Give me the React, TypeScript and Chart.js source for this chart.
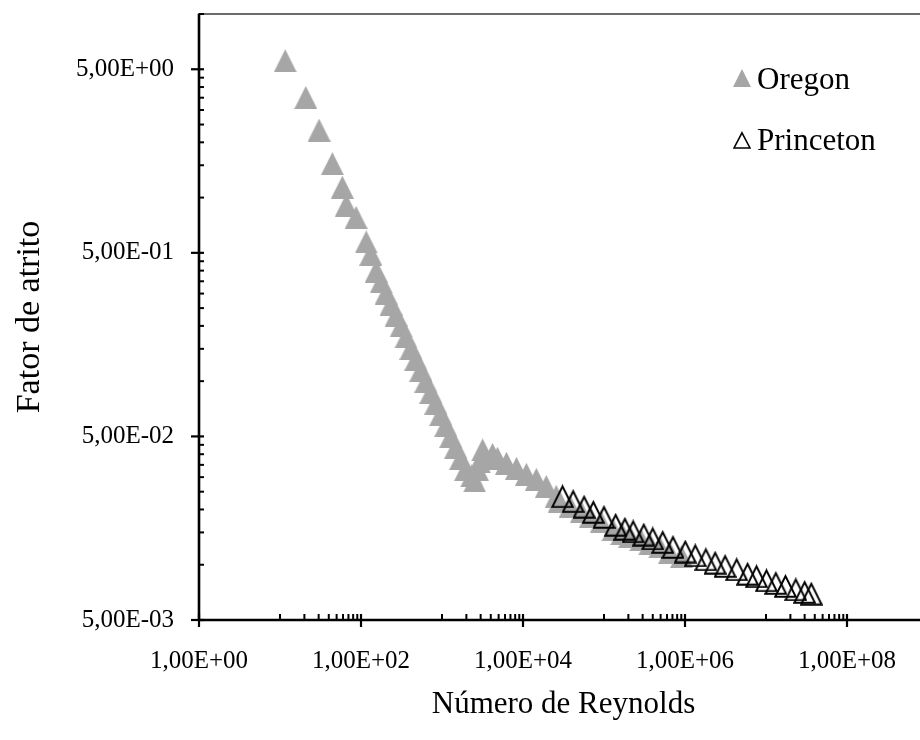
import React, { useEffect, useRef } from 'react';
import { Chart, registerables } from 'chart.js';

Chart.register(...registerables);

// ---- data ----
const oregonRe = [
  11.6, 20.8, 30.4, 44.3, 58.8, 65.8, 87, 116, 132, 154,
  177, 204, 235, 271, 312, 359, 414, 476, 549, 632,
  728, 839, 966, 1113, 1282, 1478, 1702, 1960, 2323, 2530,
  2754, 2911, 3172, 3357, 4207, 4849, 6252, 8299, 11010, 14610,
  19380, 25700, 28000, 38200, 52200, 67300, 91900, 129000, 166400, 208600,
  285000, 367500, 487500, 647000, 908000,
];
const oregonF = [
  5.56, 3.51, 2.33, 1.53, 1.14, 0.91, 0.78, 0.573, 0.492, 0.398,
  0.347, 0.302, 0.263, 0.229, 0.2, 0.174, 0.151, 0.132, 0.115, 0.1,
  0.087, 0.076, 0.066, 0.0575, 0.05, 0.0437, 0.038, 0.0331, 0.0305, 0.0286,
  0.0329, 0.0363, 0.0422, 0.038, 0.0399, 0.038, 0.0357, 0.0335, 0.0311, 0.0292,
  0.0267, 0.0236, 0.0222, 0.0208, 0.0194, 0.0182, 0.0171, 0.0155, 0.0148, 0.0143,
  0.0137, 0.013, 0.0125, 0.0117, 0.0111,
];
const princetonRe = [
  30760, 41600, 56800, 73900, 100000, 139300, 181300, 229100, 309900, 399700,
  530700, 710100, 1008000, 1339000, 1807000, 2357000, 3126000, 4344000, 5930000, 7640000,
  10140000, 13240000, 17380000, 23300000, 30000000, 36200000,
];
const princetonF = [
  0.0236, 0.0222, 0.0207, 0.0194, 0.0182, 0.0165, 0.0157, 0.0152, 0.0146, 0.0139,
  0.0133, 0.0125, 0.0118, 0.01125, 0.0107, 0.01026, 0.00984, 0.00944, 0.00893, 0.00865,
  0.00822, 0.00795, 0.00766, 0.00734, 0.0071, 0.00696,
];
const seriesNames = ['Oregon', 'Princeton'];
const xTickValues = [1, 1e2, 1e4, 1e6, 1e8];
const xTickLabels = ['1,00E+00', '1,00E+02', '1,00E+04', '1,00E+06', '1,00E+08'];
const yTickValues = [0.005, 0.05, 0.5, 5];
const yTickLabels = ['5,00E-03', '5,00E-02', '5,00E-01', '5,00E+00'];
const xMin = 1;
const xMax = 1e9;
const yMin = 0.005;
const yMax = 10;
const xTitle = 'Número de Reynolds';
const yTitle = 'Fator de atrito';

const FONT = "'Times New Roman', 'Liberation Serif', serif";
const GREY = '#a6a6a6';

function makeTriangle(w: number, h: number, filled: boolean, lw: number): HTMLCanvasElement {
  const c = document.createElement('canvas');
  c.width = w;
  c.height = h;
  const g = c.getContext('2d')!;
  g.beginPath();
  if (filled) {
    g.moveTo(w / 2, 0);
    g.lineTo(w, h);
    g.lineTo(0, h);
    g.closePath();
    g.fillStyle = GREY;
    g.fill();
  } else {
    const p = lw / 2 + 0.2;
    g.moveTo(w / 2, p * 1.8);
    g.lineTo(w - p, h - p);
    g.lineTo(p, h - p);
    g.closePath();
    g.lineWidth = lw;
    g.lineJoin = 'miter';
    g.strokeStyle = '#000';
    g.stroke();
  }
  return c;
}

export default function App() {
  const ref = useRef<HTMLCanvasElement | null>(null);

  useEffect(() => {
    if (!ref.current) return;
    const oregonPt = makeTriangle(23, 23, true, 0);
    const princetonPt = makeTriangle(23, 24, false, 2);
    const oregonLeg = makeTriangle(18, 18, true, 0);
    const princetonLeg = makeTriangle(18, 18, false, 1.6);

    const decor = {
      id: 'decor',
      afterDraw(chart: any) {
        const { ctx, chartArea: a } = chart;
        const xs = chart.scales.x;
        const ys = chart.scales.y;
        const line = (x1: number, y1: number, x2: number, y2: number) => {
          ctx.beginPath();
          ctx.moveTo(x1, y1);
          ctx.lineTo(x2, y2);
          ctx.stroke();
        };
        ctx.save();
        // top border
        ctx.strokeStyle = '#3a3a3a';
        ctx.lineWidth = 1.3;
        line(a.left, a.top, a.right + 20, a.top);
        // axes
        ctx.strokeStyle = '#000';
        ctx.lineWidth = 2.6;
        line(a.left, a.top - 0.5, a.left, a.bottom + 1);
        line(a.left - 1, a.bottom, a.right + 20, a.bottom);
        // major ticks
        ctx.lineWidth = 2.2;
        xTickValues.forEach((v) => {
          const px = xs.getPixelForValue(v);
          line(px, a.bottom - 6, px, a.bottom + 7);
        });
        yTickValues.forEach((v) => {
          const py = ys.getPixelForValue(v);
          line(a.left - 8, py, a.left + 5, py);
        });
        // minor ticks
        ctx.lineWidth = 2;
        for (let e = 1; e <= 9; e += 2) {
          for (let k = 1; k <= 9; k++) {
            const v = k * Math.pow(10, e);
            if (v > xMax) continue;
            const px = xs.getPixelForValue(v);
            line(px, a.bottom, px, a.bottom - 6);
          }
        }
        yTickValues.forEach((m) => {
          for (let k = 2; k <= 9; k++) {
            const v = m * k;
            if (v > yMax + 1e-9) continue;
            const py = ys.getPixelForValue(v);
            line(a.left, py, a.left + 5, py);
          }
        });
        // axis titles
        ctx.fillStyle = '#000';
        ctx.font = `31px ${FONT}`;
        ctx.textAlign = 'center';
        ctx.textBaseline = 'alphabetic';
        ctx.fillText(xTitle, (a.left + a.right) / 2, 713);
        ctx.save();
        ctx.font = `34px ${FONT}`;
        ctx.translate(30, (a.top + a.bottom) / 2);
        ctx.rotate(-Math.PI / 2);
        ctx.textBaseline = 'middle';
        ctx.fillText(yTitle, 0, 0);
        ctx.restore();
        // legend
        ctx.textAlign = 'left';
        ctx.textBaseline = 'alphabetic';
        ctx.drawImage(oregonLeg, 742 - 9, 78 - 9);
        ctx.fillText(seriesNames[0], 757, 89);
        ctx.drawImage(princetonLeg, 742 - 9, 140 - 9);
        ctx.fillText(seriesNames[1], 757, 150);
        ctx.restore();
      },
    };

    const chart = new Chart(ref.current, {
      type: 'scatter',
      data: {
        datasets: [
          {
            label: seriesNames[1],
            data: princetonRe.map((x, i) => ({ x, y: princetonF[i] })),
            pointStyle: princetonPt as any,
            pointRadius: 11,
            order: 0,
          },
          {
            label: seriesNames[0],
            data: oregonRe.map((x, i) => ({ x, y: oregonF[i] })),
            pointStyle: oregonPt as any,
            pointRadius: 11,
            order: 1,
          },
        ],
      },
      options: {
        animation: false,
        responsive: false,
        devicePixelRatio: 1,
        events: [],
        layout: { padding: { left: 0, right: 10, top: 14, bottom: 0 } },
        plugins: { legend: { display: false }, tooltip: { enabled: false } },
        scales: {
          x: {
            type: 'logarithmic',
            min: xMin,
            max: xMax,
            grid: { display: false, drawTicks: false },
            border: { display: false },
            afterBuildTicks: (s: any) => {
              s.ticks = xTickValues.map((v) => ({ value: v }));
            },
            afterFit: (s: any) => {
              s.height = 120;
              s.paddingLeft = 0;
              s.paddingRight = 0;
            },
            ticks: {
              autoSkip: false,
              maxRotation: 0,
              padding: 26,
              color: '#000',
              font: { family: FONT, size: 25 },
              callback: (v: any) => {
                const i = xTickValues.indexOf(Number(v));
                return i >= 0 ? xTickLabels[i] : '';
              },
            },
          },
          y: {
            type: 'logarithmic',
            min: yMin,
            max: yMax,
            grid: { display: false, drawTicks: false },
            border: { display: false },
            afterBuildTicks: (s: any) => {
              s.ticks = yTickValues.map((v) => ({ value: v }));
            },
            afterFit: (s: any) => {
              s.width = 199;
              s.paddingTop = 0;
              s.paddingBottom = 0;
            },
            ticks: {
              autoSkip: false,
              padding: 25,
              color: '#000',
              font: { family: FONT, size: 25 },
              callback: (v: any) => {
                const i = yTickValues.findIndex((t) => Math.abs(t - Number(v)) / t < 1e-6);
                return i >= 0 ? yTickLabels[i] : '';
              },
            },
          },
        },
      },
      plugins: [decor],
    });
    return () => chart.destroy();
  }, []);

  return (
    <div
      style={{
        position: 'fixed',
        left: 0,
        top: 0,
        width: 920,
        height: 740,
        overflow: 'hidden',
        background: '#fff',
      }}
    >
      <canvas ref={ref} width={940} height={740} style={{ display: 'block' }} />
    </div>
  );
}
